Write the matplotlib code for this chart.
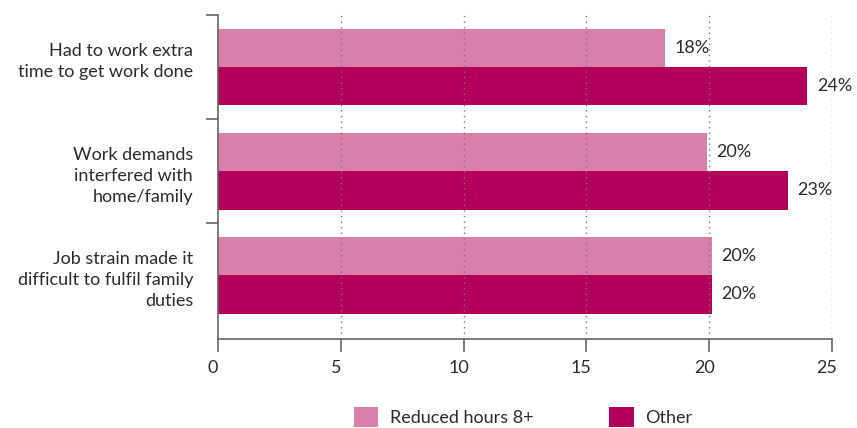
import matplotlib
matplotlib.use("Agg")
import matplotlib.pyplot as plt
import matplotlib.transforms as mtransforms
from matplotlib.patches import Patch
import numpy as np

plt.rcParams["font.family"] = ["Lato", "DejaVu Sans"]

categories = [
    "Had to work extra\ntime to get work done",
    "Work demands\ninterfered with\nhome/family",
    "Job strain made it\ndifficult to fulfil family\nduties",
]
reduced_hours = [18.2, 19.9, 20.1]
other = [24.0, 23.2, 20.1]
series_names = ["Reduced hours 8+", "Other"]
x_ticks = [0, 5, 10, 15, 20, 25]

PINK = "#D880AA"
MAGENTA = "#B3005A"
TEXT = "#2b2b2b"
AXIS = "#666666"
FS = 13

fig = plt.figure(figsize=(8.57, 4.28), dpi=100)
ax = fig.add_axes([218 / 857, 1 - 339 / 428, (832 - 218) / 857, (339 - 15) / 428])

y = np.arange(len(categories))
h = 0.37
off = 0.185
ax.barh(y - off, reduced_hours, height=h, color=PINK, zorder=1)
ax.barh(y + off, other, height=h, color=MAGENTA, zorder=1)

for yi, v in zip(y - off, reduced_hours):
    ax.annotate(f"{v:.0f}%", (v, yi), xytext=(7, 0), textcoords="offset points",
                va="center", ha="left", fontsize=FS, color=TEXT)
for yi, v in zip(y + off, other):
    ax.annotate(f"{v:.0f}%", (v, yi), xytext=(7, 0), textcoords="offset points",
                va="center", ha="left", fontsize=FS, color=TEXT)

ax.set_xlim(0, 25)
ax.set_ylim(2.615, -0.5)

# dotted reference lines drawn over the bars
for xv in x_ticks[1:]:
    ax.axvline(xv, color="#777777", linestyle=(0, (1, 3)), linewidth=1.0, zorder=3)

for side in ["top", "right"]:
    ax.spines[side].set_visible(False)
for side in ["left", "bottom"]:
    ax.spines[side].set_color(AXIS)
    ax.spines[side].set_linewidth(1.2)

ax.set_xticks(x_ticks)
ax.set_xticklabels([str(t) for t in x_ticks])
ax.tick_params(axis="x", length=9, width=1.2, color=AXIS, pad=6,
               labelsize=FS, labelcolor=TEXT)
shift = mtransforms.ScaledTranslation(-5 / 100, 0, fig.dpi_scale_trans)
for lbl in ax.get_xticklabels():
    lbl.set_transform(lbl.get_transform() + shift)

# category labels hang from a line just above each group's centre
ax.set_yticks(y)
ax.set_yticklabels(categories)
ax.tick_params(axis="y", which="major", length=0, pad=18, labelsize=FS, labelcolor=TEXT)
lift = mtransforms.ScaledTranslation(0, 24 / 100, fig.dpi_scale_trans)
for lbl in ax.get_yticklabels():
    lbl.set_multialignment("right")
    lbl.set_linespacing(1.4)
    lbl.set_verticalalignment("top")
    lbl.set_transform(lbl.get_transform() + lift)
ax.set_yticks(y - 0.5, minor=True)
ax.tick_params(axis="y", which="minor", length=9, width=1.2, color=AXIS)

handles = [Patch(facecolor=PINK, edgecolor="none"), Patch(facecolor=MAGENTA, edgecolor="none")]
leg = fig.legend(handles, series_names, loc="center left",
                 bbox_to_anchor=(354 / 857, 1 - 417 / 428), ncol=2, frameon=False,
                 fontsize=FS, handlelength=1.35, handleheight=1.35, handletextpad=0.65,
                 columnspacing=4.2, borderpad=0, borderaxespad=0)
for t in leg.get_texts():
    t.set_color(TEXT)

fig.savefig("out.png", dpi=100)
